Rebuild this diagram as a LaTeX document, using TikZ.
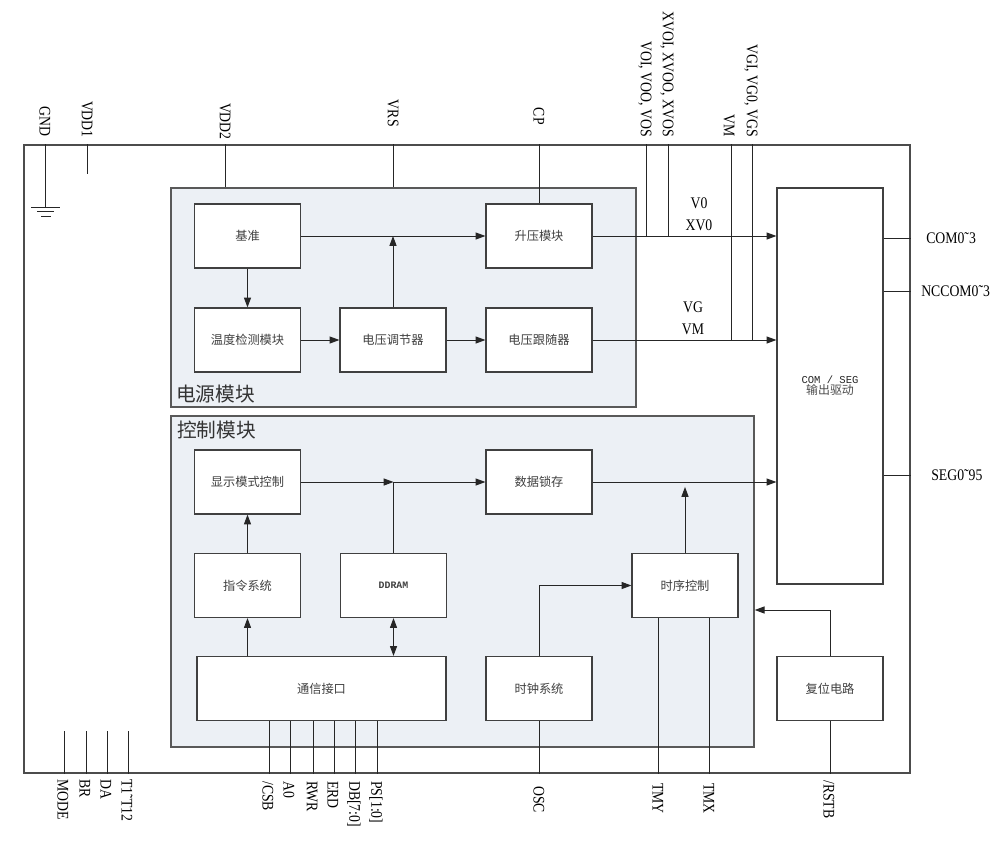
\documentclass[tikz,border=0pt]{standalone}
\usepackage{fontspec}
\setmainfont{Liberation Serif}
\newfontfamily\cjk{Noto Sans CJK SC}
\newfontfamily\monof{Liberation Mono}
\newfontfamily\labf[FakeStretch=0.85]{Liberation Serif}
\usetikzlibrary{arrows.meta}
\definecolor{groupbg}{HTML}{ECF0F5}
\tikzset{
  blk/.style={draw=black!75, line width=0.8pt, fill=white, minimum width=2.65cm, minimum height=1.6cm, inner sep=0pt, font=\cjk\fontsize{8.7}{10}\selectfont, text=black!75},
  grp/.style={draw=black!65, line width=0.9pt, fill=groupbg, inner sep=0pt},
  wire/.style={line width=0.7pt, draw=black!85},
  arr/.style={wire, -{Triangle[length=7pt,width=5pt]}},
  pinu/.style={rotate=-90, anchor=east, inner sep=0pt, font=\labf\fontsize{11.5}{13}\selectfont},
  pind/.style={rotate=-90, anchor=west, inner sep=0pt, font=\labf\fontsize{11.5}{13}\selectfont},
  sig/.style={inner sep=0pt, font=\labf\fontsize{11.5}{13}\selectfont},
  grplbl/.style={anchor=base west, inner sep=0pt, font=\cjk\fontsize{14}{16}\selectfont, text=black!80},
}
\begin{document}
\begin{tikzpicture}[x=0.025cm, y=-0.025cm]
\useasboundingbox (0,0) rectangle (1008,862);
% chip outline and the two module groups
\node[draw=black!70, line width=0.9pt, minimum width=22.15cm, minimum height=15.7cm, inner sep=0pt] (chip) at (467,459) {};
\node[grp, minimum width=11.625cm, minimum height=5.475cm] (pwr) at (403.5,297.5) {};
\node[grp, minimum width=14.575cm, minimum height=8.275cm] (ctl) at (462.5,581.5) {};
\node[grplbl] (pwrlbl) at (176,401) {电源模块};
\node[grplbl] (ctllbl) at (177,437) {控制模块};

% power module
\node[blk] (jz) at (247.5,236) {基准};
\node[blk] (sy) at (539,236) {升压模块};
\node[blk] (wd) at (247.5,340) {温度检测模块};
\node[blk] (tj) at (393,340) {电压调节器};
\node[blk] (gs) at (539,340) {电压跟随器};
\draw[arr] (jz.east) -- (sy.west);
\draw[arr] (tj.north) -- (tj.north |- jz.east);
\draw[arr] (jz.south) -- (wd.north);
\draw[arr] (wd) -- (tj);
\draw[arr] (tj) -- (gs);

% control module
\node[blk] (xs) at (247.5,482) {显示模式控制};
\node[blk] (sc) at (539,482) {数据锁存};
\node[blk] (zl) at (247.5,585.5) {指令系统};
\node[blk, font=\monof\bfseries\fontsize{7}{8}\selectfont] (dd) at (393.5,585.5) {DDRAM};
\node[blk] (sx) at (685,585.5) {时序控制};
\node[blk, minimum width=6.225cm] (tx) at (321.5,688.5) {通信接口};
\node[blk] (sz) at (539,688.5) {时钟系统};
\node[blk] (fw) at (830,688.5) {复位电路};
\node[blk, minimum height=9.9cm, align=center, font=\monof\fontsize{7.5}{9}\selectfont, text=black!85] (cs) at (830,386) {COM / SEG\\[-1pt]{\cjk\fontsize{8.5}{10}\selectfont\color{black!70}输出驱动}};
\coordinate (jn) at (dd.north |- xs.east);
\coordinate (rstin) at (ctl.east |- 0,610);
\draw[arr] (xs.east) -- (jn);
\draw[arr] (jn) -- (sc.west);
\draw[wire] (dd.north) -- (jn);
\draw[arr] (sc.east) -- (cs.west |- sc.east);
\draw[arr, shorten >=3.5pt] (sx.north) -- (sx.north |- sc.east);
\draw[arr] (zl.north) -- (xs.south);
\draw[arr] (tx.north -| zl.south) -- (zl.south);
\draw[wire, {Triangle[length=7pt,width=5pt]}-{Triangle[length=7pt,width=5pt]}] (dd.south) -- (tx.north -| dd.south);
\draw[arr] (sz.north) |- (sx.west);
\draw[arr] (fw.north) |- (rstin);

% outputs to the driver
\draw[arr] (sy.east) -- (cs.west |- sy.east);
\draw[arr] (gs.east) -- (cs.west |- gs.east);
\node[sig] (v0) at (699,203) {V0};
\node[sig] (xv0) at (699,225) {XV0};
\node[sig] (vg) at (693,307) {VG};
\node[sig] (vm0) at (693,329) {VM};

% top pins
\node[pinu] (gnd) at (45,137) {GND};
\node[pinu] (vdd1) at (87,138) {VDD1};
\node[pinu] (vdd2) at (225,140) {VDD2};
\node[pinu] (vrs) at (393,127) {VRS};
\node[pinu] (cp) at (539,125) {CP};
\node[pinu] (vos) at (645,137) {VOI, VOO, VOS};
\node[pinu] (xvos) at (667,137) {XVOI, XVOO, XVOS};
\node[pinu] (vm) at (729,137) {VM};
\node[pinu] (vgs) at (751,137) {VGI, VG0, VGS};
\draw[wire] (gnd |- chip.north) -- ++(0,63) coordinate (gndp);
\draw[wire, line width=1pt] (gndp) ++(-14,0) -- ++(29,0);
\draw[wire] (gndp) ++(-8,4) -- ++(17,0);
\draw[wire] (gndp) ++(-4,9) -- ++(10,0);
\draw[wire] (vdd1 |- chip.north) -- ++(0,30);
\draw[wire] (vdd2 |- chip.north) -- (vdd2 |- pwr.north);
\draw[wire] (vrs |- chip.north) -- (vrs |- pwr.north);
\draw[wire] (sy.north |- chip.north) -- (sy.north);
\draw[wire] ([xshift=1pt]vos |- chip.north) -- ([xshift=1pt]vos |- sy.east);
\draw[wire] ([xshift=1pt]xvos |- chip.north) -- ([xshift=1pt]xvos |- sy.east);
\draw[wire] ([xshift=1.5pt]vm |- chip.north) -- ([xshift=1.5pt]vm |- gs.east);
\draw[wire] ([xshift=1pt]vgs |- chip.north) -- ([xshift=1pt]vgs |- gs.east);

% right pins
\node[sig, anchor=west] (com) at (926,238) {COM0˜3};
\node[sig, anchor=west] (nccom) at (921,291) {NCCOM0˜3};
\node[sig, anchor=west] (seg) at (931,475) {SEG0˜95};
\draw[wire] (cs.east |- com) -- (chip.east |- com);
\draw[wire] (cs.east |- nccom) -- (chip.east |- nccom);
\draw[wire] (cs.east |- seg) -- (chip.east |- seg);

% bottom pins
\node[pind] (mode) at (63,779) {MODE};
\node[pind] (br) at (85,779) {BR};
\node[pind] (da) at (106,779) {DA};
\node[pind] (tt) at (127,779) {T1˜T12};
\node[pind] (csb) at (268,781) {/CSB};
\node[pind] (a0) at (289,781) {A0};
\node[pind] (rwr) at (312,781) {RWR};
\node[pind] (erd) at (333,781) {ERD};
\node[pind] (db) at (354,781) {DB[7:0]};
\node[pind] (ps) at (376,781) {PS[1:0]};
\node[pind] (osc) at (539,786) {OSC};
\node[pind] (tmy) at (658,783) {TMY};
\node[pind] (tmx) at (709,783) {TMX};
\node[pind] (rstb) at (829,780) {/RSTB};
\foreach \p in {mode,br,da,tt}
  \draw[wire] ([xshift=1pt]\p |- chip.south) -- ++(0,-43);
\foreach \p in {csb,a0,rwr,erd,db,ps}
  \draw[wire] ([xshift=1pt]\p |- tx.south) -- ([xshift=1pt]\p |- chip.south);
\draw[wire] (sz.south) -- (sz.south |- chip.south);
\draw[wire] ([xshift=0.5pt]tmy |- sx.south) -- ([xshift=0.5pt]tmy |- chip.south);
\draw[wire] ([xshift=0.5pt]tmx |- sx.south) -- ([xshift=0.5pt]tmx |- chip.south);
\draw[wire] (fw.south) -- (fw.south |- chip.south);
\end{tikzpicture}
\end{document}
